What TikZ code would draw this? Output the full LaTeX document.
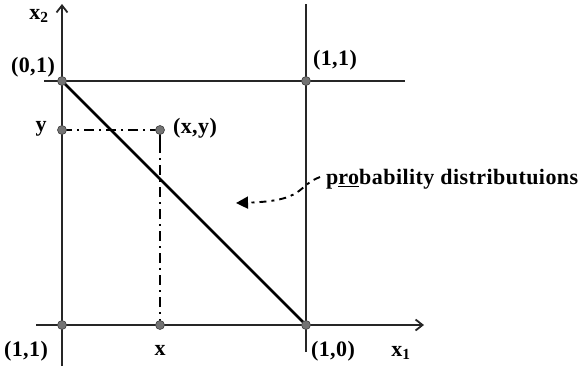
\documentclass[tikz,border=0pt]{standalone}
\usepackage{fontspec}
\setmainfont{Liberation Serif}
\usetikzlibrary{arrows.meta}
\begin{document}
\begin{tikzpicture}[x=1pt,y=-1pt,
  ln/.style={line width=1.4pt,black!85},
  dot/.style={circle,fill=black!55,draw=black!75,line width=0.6pt,inner sep=0pt,minimum size=9pt},
  lbl/.style={font=\bfseries\fontsize{22}{24}\selectfont\addfontfeature{LetterSpace=2},inner sep=1pt},
  dd/.style={line width=1.4pt,dash pattern=on 10pt off 5pt on 2pt off 5pt}]
\useasboundingbox (0,0) rectangle (583,370);
% points
\coordinate (p01) at (62,81);
\coordinate (p11) at (306,81);
\coordinate (py) at (62,130);
\coordinate (pxy) at (160,130);
\coordinate (px) at (160,325);
\coordinate (p00) at (62,325);
\coordinate (p10) at (306,325);
% axes and lines
\coordinate (ytop) at (62,4);
\coordinate (ybot) at (62,366);
\coordinate (xl) at (36,325);
\coordinate (xr) at (424,325);
\coordinate (tl) at (44,81);
\coordinate (tr) at (405,81);
\coordinate (rt) at (306,4);
\coordinate (rb) at (306,352);
\draw[ln,-{Straight Barb[length=7pt,width=11pt,line width=1.8pt]}] (ybot) -- (ytop);
\draw[ln,-{Straight Barb[length=7pt,width=11pt,line width=1.8pt]}] (xl) -- (xr);
\draw[ln] (tl) -- (tr);
\draw[ln] (rb) -- (rt);
\draw[line width=2.8pt] (p01) -- (p10);
\draw[dd] (pxy) -- (py);
\draw[dd] ([yshift=-13pt]pxy) -- (px);
\draw[line width=1.6pt] ([yshift=-13pt]pxy) -- (pxy);
% dots
\foreach \p in {p01,p11,py,pxy,px,p00,p10} \node[dot] (d\p) at (\p) {};
% labels
\node[lbl] (lx2) at (39,16) {x\textsubscript{2}};
\node[lbl] (l01) at (33,67) {(0,1)};
\node[lbl] (l11) at (335,60) {(1,1)};
\node[lbl] (ly) at (41,129) {y};
\node[lbl] (lxy) at (195,128) {(x,y)};
\node[lbl] (l00) at (26,351) {(1,1)};
\node[lbl] (lx) at (160,350) {x};
\node[lbl] (l10) at (333,351) {(1,0)};
\node[lbl] (lx1) at (401,353) {x\textsubscript{1}};
\node[lbl,anchor=west] (lpd) at (325,179) {p\underline{ro}bability distributuions};
\coordinate (tip) at (236,203);
\draw[line width=1.9pt,dash pattern=on 7pt off 5pt on 3pt off 5pt,-{Triangle[length=12pt,width=12pt]}]
  ([xshift=-5pt,yshift=2pt]lpd.west) .. controls (296,186) and (306,201) .. (tip);
\end{tikzpicture}
\end{document}
